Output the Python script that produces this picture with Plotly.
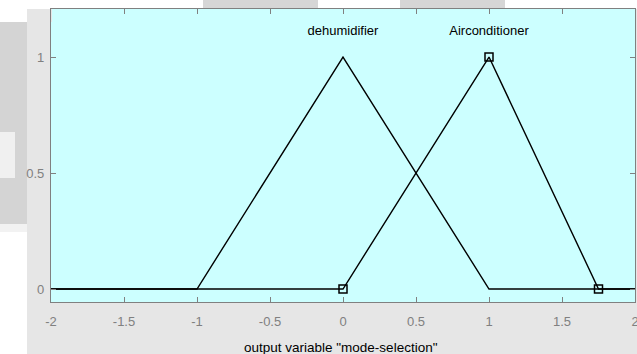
import plotly.graph_objects as go

# Membership functions of output variable "mode-selection" (triangular)
mf_names = ["dehumidifier", "Airconditioner"]
dehumidifier_x = [-2, -1, 0, 1, 2]
dehumidifier_y = [0, 0, 1, 0, 0]
aircond_x = [-2, 0, 1, 1.75, 2]
aircond_y = [0, 0, 1, 0, 0]
# vertices of the selected function (square handles)
handle_x = [0, 1, 1.75]
handle_y = [0, 1, 0]
# label anchor points
label_x = [0, 1]
label_y = [1.11, 1.11]

x_ticks = [-2, -1.5, -1, -0.5, 0, 0.5, 1, 1.5, 2]
x_tick_text = ["-2", "-1.5", "-1", "-0.5", "0", "0.5", "1", "1.5", "2"]
y_ticks = [0, 0.5, 1]
y_tick_text = ["0", "0.5", "1"]

W, H = 637, 354
L, R, T, B = 51, 2, 9, 52
PW, PH = W - L - R, H - T - B


def px(x):
    return (x - L) / PW


def py(y):
    return (H - B - y) / PH


FONT = "Liberation Sans, Arial, sans-serif"

fig = go.Figure()
fig.add_trace(go.Scatter(x=dehumidifier_x, y=dehumidifier_y, mode="lines",
                         line=dict(color="black", width=1.4), hoverinfo="skip"))
fig.add_trace(go.Scatter(x=aircond_x, y=aircond_y, mode="lines",
                         line=dict(color="black", width=1.4), hoverinfo="skip"))
fig.add_trace(go.Scatter(x=handle_x, y=handle_y, mode="markers",
                         marker=dict(symbol="square-open", size=8, color="black",
                                     line=dict(width=1.5)), hoverinfo="skip"))
fig.add_trace(go.Scatter(x=label_x, y=label_y, mode="text", text=mf_names,
                         textposition="middle center",
                         textfont=dict(family=FONT, size=13, color="black"),
                         hoverinfo="skip"))

# light-gray window frame with faded patches around it
shapes = []


def rect(x0, y0, x1, y1, color):
    shapes.append(dict(type="rect", xref="paper", yref="paper", layer="below",
                       x0=px(x0), x1=px(x1), y0=py(y1), y1=py(y0),
                       fillcolor=color, line=dict(width=0)))


rect(0, 0, 27, H, "white")
rect(0, 0, W, 9, "white")
rect(0, 22, 27, 224, "#d4d4d4")
rect(0, 224, 27, 232, "#f2f2f2")
rect(0, 132, 15, 178, "#f0f0f0")
rect(203, 0, 318, 8, "#d6d6d6")
rect(400, 0, 505, 8, "#d6d6d6")
rect(27, 9, 52, 22, "#e6e6e6")

fig.update_layout(
    width=W, height=H,
    margin=dict(l=L, r=R, t=T, b=B, autoexpand=False),
    paper_bgcolor="#e6e6e6",
    plot_bgcolor="#ccffff",
    showlegend=False,
    shapes=shapes,
    font=dict(family=FONT, size=12, color="#808080"),
    xaxis=dict(range=[-2, 2], tickvals=x_ticks, ticktext=x_tick_text,
               ticks="inside", ticklen=5, tickcolor="#808080", tickwidth=1,
               showgrid=False, zeroline=False, showline=True, linecolor="#808080",
               linewidth=1.2, mirror="ticks", ticklabelstandoff=7,
               ticklabeloverflow="allow", automargin=False,
               tickfont=dict(family=FONT, size=13, color="#808080")),
    yaxis=dict(range=[-0.056, 1.207], tickvals=y_ticks, ticktext=y_tick_text,
               ticks="inside", ticklen=5, tickcolor="#808080", tickwidth=1,
               showgrid=False, zeroline=False, showline=True, linecolor="#808080",
               linewidth=1.2, mirror="ticks", ticklabelstandoff=3, automargin=False,
               tickfont=dict(family=FONT, size=13, color="#808080")),
    annotations=[dict(text='output variable "mode-selection"', xref="paper", yref="paper",
                      x=px(341), y=py(347), showarrow=False, xanchor="center",
                      yanchor="middle",
                      font=dict(family=FONT, size=13.5, color="black"))],
)

fig.write_html("out.html")
